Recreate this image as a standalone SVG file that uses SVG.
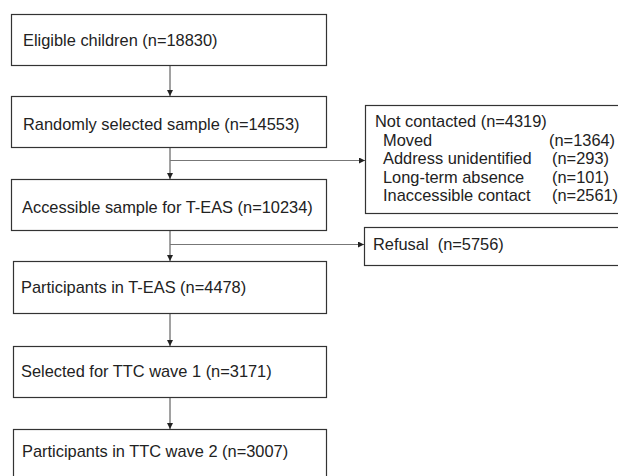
<svg xmlns="http://www.w3.org/2000/svg" width="618" height="476" viewBox="0 0 618 476">
<defs>
<marker id="ah" markerUnits="userSpaceOnUse" markerWidth="6" markerHeight="6" refX="6" refY="3" orient="auto">
<path d="M0,0 L6,3 L0,6 z" fill="#222"/>
</marker>
<style>
.box{fill:#fff;stroke:#333;stroke-width:1.2}
.t{font-family:"Liberation Sans",Arial,sans-serif;font-size:16.4px;fill:#222}
.v{stroke:#444;stroke-width:1;fill:none}
.h{stroke:#777;stroke-width:1;fill:none}
</style>
</defs>
<rect width="618" height="476" fill="#fff"/>
<g id="connectors">
<line class="v" x1="170" y1="65" x2="170" y2="96" marker-end="url(#ah)"/>
<line class="v" x1="170" y1="147" x2="170" y2="179" marker-end="url(#ah)"/>
<line class="h" x1="170" y1="160.5" x2="365" y2="160.5" marker-end="url(#ah)"/>
<line class="v" x1="170" y1="230" x2="170" y2="261" marker-end="url(#ah)"/>
<line class="h" x1="170" y1="244.5" x2="364" y2="244.5" marker-end="url(#ah)"/>
<line class="v" x1="170" y1="313" x2="170" y2="346" marker-end="url(#ah)"/>
<line class="v" x1="170" y1="397" x2="170" y2="429" marker-end="url(#ah)"/>
</g>
<g id="n1"><rect class="box" x="11.5" y="14.5" width="315" height="51"/><text class="t" x="23" y="46">Eligible children (n=18830)</text></g>
<g id="n2"><rect class="box" x="11.5" y="96.5" width="315" height="51"/><text class="t" x="23" y="130">Randomly selected sample (n=14553)</text></g>
<g id="n3"><rect class="box" x="11.5" y="179.5" width="315" height="51"/><text class="t" x="22" y="213">Accessible sample for T-EAS (n=10234)</text></g>
<g id="n4"><rect class="box" x="13.5" y="261.5" width="313" height="52"/><text class="t" x="21" y="293">Participants in T-EAS (n=4478)</text></g>
<g id="n5"><rect class="box" x="13.5" y="346.5" width="313" height="51"/><text class="t" x="21" y="377">Selected for TTC wave 1 (n=3171)</text></g>
<g id="n6"><rect class="box" x="13.5" y="429.5" width="313" height="60"/><text class="t" x="22" y="457">Participants in TTC wave 2 (n=3007)</text></g>
<g id="n7"><rect class="box" x="365.5" y="105.5" width="270" height="108"/>
<text class="t" x="375" y="127">Not contacted (n=4319)</text>
<text class="t" x="383" y="145.5">Moved</text><text class="t" x="549" y="145.5">(n=1364)</text>
<text class="t" x="383" y="164">Address unidentified</text><text class="t" x="552" y="164">(n=293)</text>
<text class="t" x="383" y="182.5">Long-term absence</text><text class="t" x="552" y="182.5">(n=101)</text>
<text class="t" x="383" y="201">Inaccessible contact</text><text class="t" x="552" y="201">(n=2561)</text>
</g>
<g id="n8"><rect class="box" x="364.5" y="227.5" width="270" height="38"/><text class="t" x="373" y="250" xml:space="preserve">Refusal  (n=5756)</text></g>
</svg>
